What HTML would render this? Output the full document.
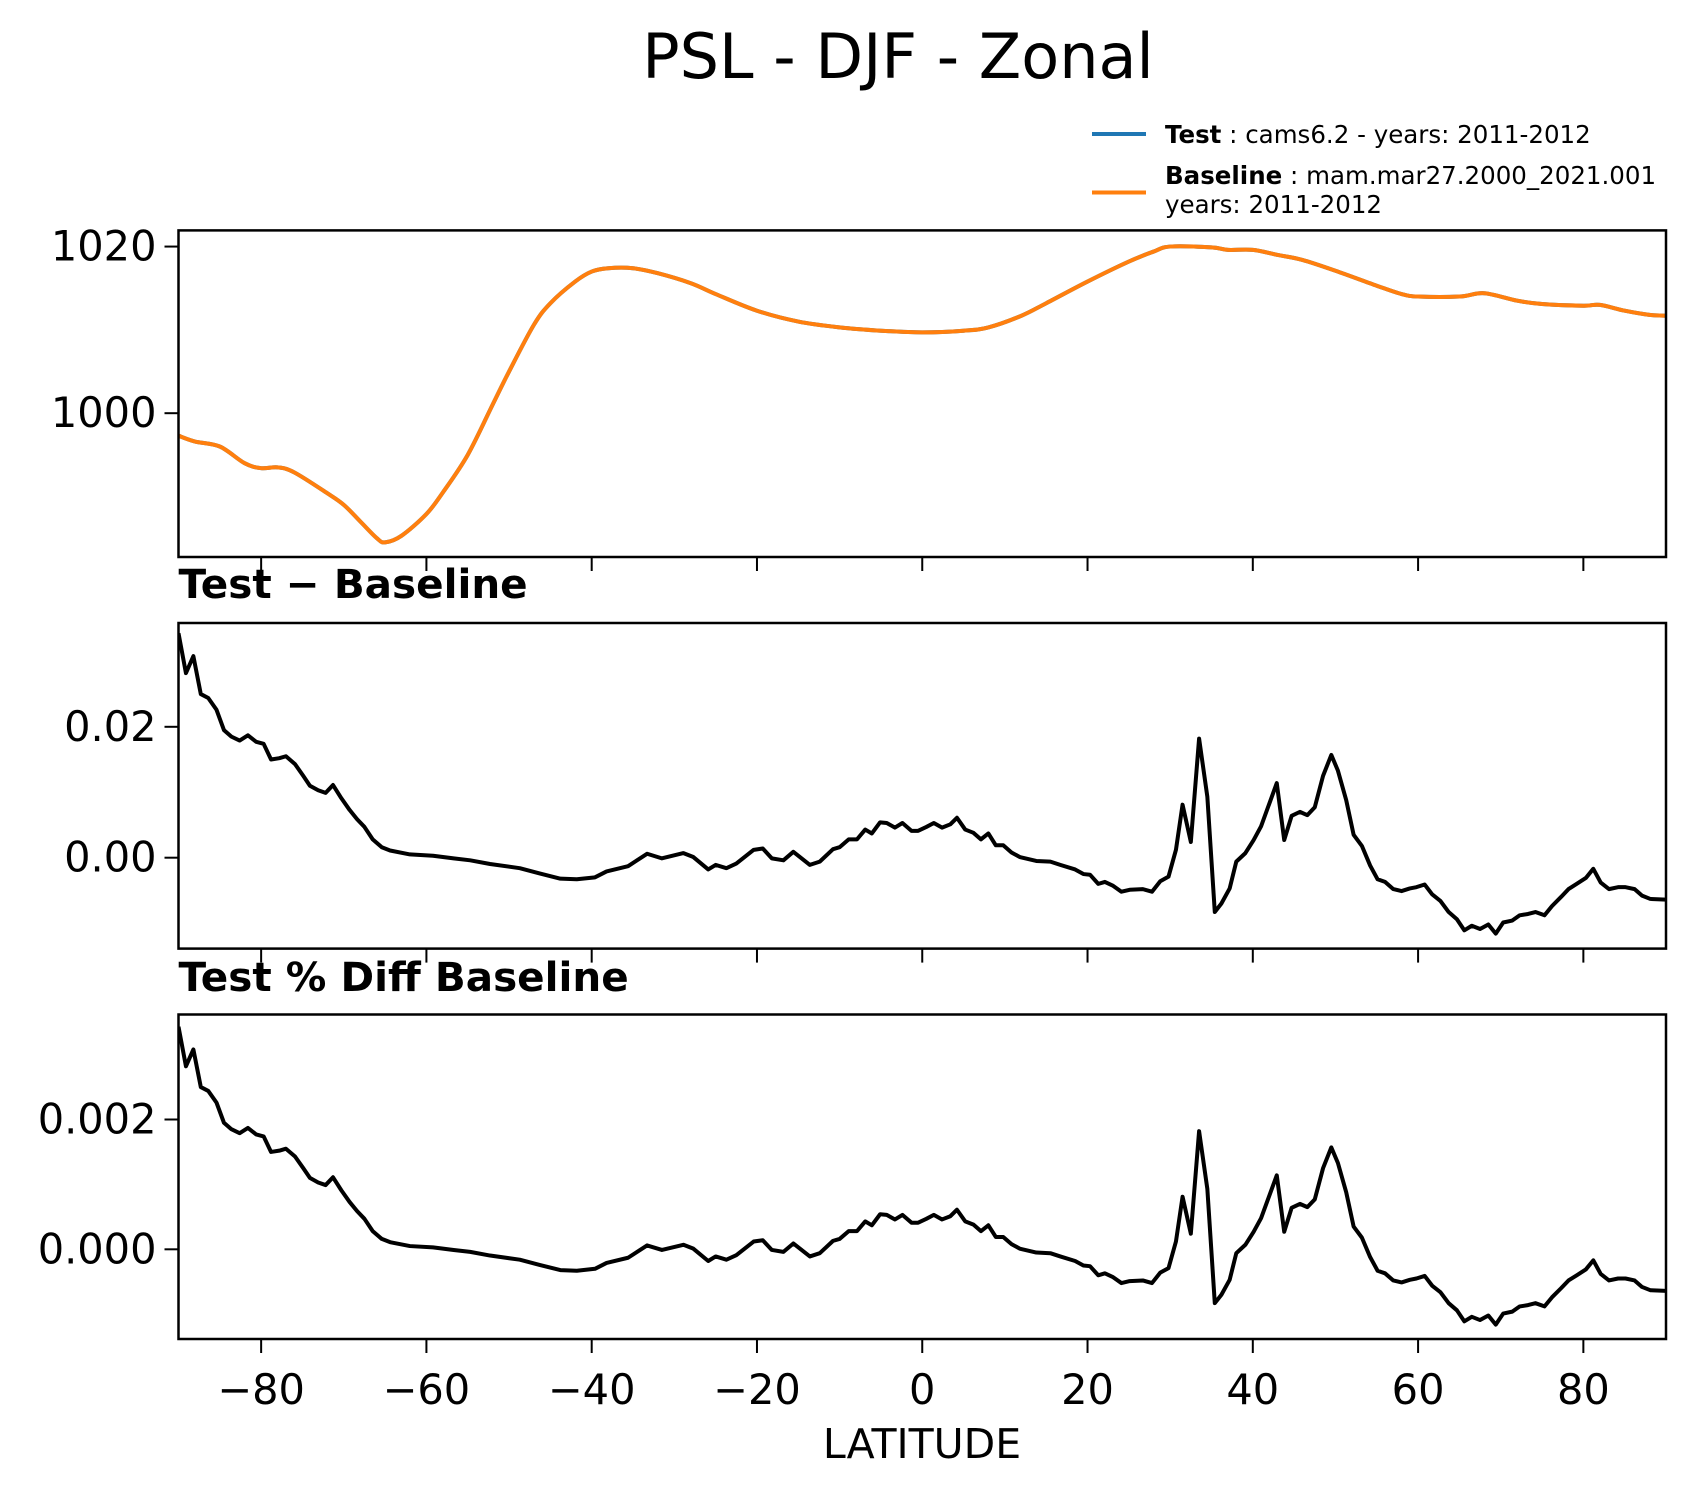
<!DOCTYPE html>
<html><head><meta charset="utf-8">
<style>
html,body{margin:0;padding:0;background:#fff;}
svg{display:block;font-family:"DejaVu Sans","Liberation Sans",sans-serif;}
</style></head>
<body>
<svg id="fig" width="1696" height="1496" viewBox="0 0 1696 1496" xmlns="http://www.w3.org/2000/svg">
<rect width="1696" height="1496" fill="#fff"/>
<text x="898" y="78" font-size="62" text-anchor="middle" fill="#000">PSL - DJF - Zonal</text>
<g>
  <line x1="1092" y1="134" x2="1146" y2="134" stroke="#1f77b4" stroke-width="4"/>
  <text x="1165" y="143" font-size="24.5"><tspan font-weight="bold">Test</tspan> : cams6.2 - years: 2011-2012</text>
  <line x1="1092" y1="192.5" x2="1146" y2="192.5" stroke="#ff7f0e" stroke-width="4"/>
  <text x="1165" y="184" font-size="24.5"><tspan font-weight="bold">Baseline</tspan> : mam.mar27.2000_2021.001</text>
  <text x="1165" y="213" font-size="24.5">years: 2011-2012</text>
</g>
<text x="178.5" y="598" font-size="40.5" font-weight="bold">Test − Baseline</text>
<text x="178.5" y="991" font-size="40.5" font-weight="bold">Test % Diff Baseline</text>
<text x="922" y="1458" font-size="41" text-anchor="middle">LATITUDE</text>
<g id="plots"></g>
</svg>
<script>
const xTicks=[-80,-60,-40,-20,0,20,40,60,80];
const xTickLabels=["−80","−60","−40","−20","0","20","40","60","80"];
const pslLat=[-90,-88,-85,-82,-80,-78,-76,-72,-70,-68,-66,-65,-63,-60,-58,-55,-52,-50,-47,-45,-42,-40,-38,-35,-32,-28,-25,-20,-15,-10,-5,0,5,8,12,15,20,25,28,30,35,37,40,43,46,50,55,58,60,65,68,72,75,80,82,85,88,90];
const pslTest=[997.3,996.6,996,994,993.4,993.5,992.9,990.4,989,987,985,984.5,985.3,987.9,990.5,995,1001,1005,1010.6,1013.2,1015.8,1017,1017.4,1017.4,1016.8,1015.6,1014.3,1012.3,1011,1010.3,1009.9,1009.7,1009.9,1010.3,1011.7,1013.2,1015.8,1018.2,1019.4,1020,1019.9,1019.6,1019.6,1019,1018.4,1017.1,1015.3,1014.3,1014,1014,1014.4,1013.5,1013.1,1012.9,1013,1012.3,1011.8,1011.7];
const pslBase=[997.3,996.6,996,994,993.4,993.5,992.9,990.4,989,987,985,984.5,985.3,987.9,990.5,995,1001,1005,1010.6,1013.2,1015.8,1017,1017.4,1017.4,1016.8,1015.6,1014.3,1012.3,1011,1010.3,1009.9,1009.7,1009.9,1010.3,1011.7,1013.2,1015.8,1018.2,1019.4,1020,1019.9,1019.6,1019.6,1019,1018.4,1017.1,1015.3,1014.3,1014,1014,1014.4,1013.5,1013.1,1012.9,1013,1012.3,1011.8,1011.7];
const diffLat=[-90,-89.1,-88.2,-87.3,-86.4,-85.4,-84.5,-83.6,-82.6,-81.6,-80.6,-79.7,-78.8,-77.8,-77,-75.9,-74.9,-74.1,-73.1,-72.2,-71.3,-70.3,-69.3,-68.4,-67.5,-66.5,-65.4,-64.4,-62,-59.2,-56.7,-54.7,-52.3,-48.7,-46.3,-43.8,-41.8,-39.6,-38.2,-35.6,-33.3,-31.5,-28.9,-27.7,-25.9,-25,-23.7,-22.5,-20.4,-19.3,-18.2,-16.8,-15.6,-13.6,-12.4,-10.8,-10,-8.9,-7.9,-6.9,-6.1,-5.1,-4.3,-3.3,-2.4,-1.3,-0.5,0.5,1.4,2.4,3.4,4.2,5.2,6.2,7.1,8,8.9,9.8,10.8,11.8,13.8,15.5,16.7,18.5,19.5,20.3,21.3,22.1,23.1,24.1,25.1,26.7,27.8,28.8,29.8,30.7,31.5,32.5,33.5,34.5,35.4,36.2,37.2,38,39.1,40.1,41,42.9,43.8,44.7,45.7,46.6,47.5,48.5,49.5,50.3,51.3,52.2,53.2,54.2,55.1,56,57,58,59,59.8,60.8,61.7,62.7,63.7,64.7,65.6,66.5,67.5,68.5,69.4,70.3,71.4,72.3,73.3,74.2,75.3,76.2,77.3,78.2,79.2,80.3,81.2,82.1,83.1,84.2,85.1,86.2,87.1,88.1,90];
const diffVals=[0.0343,0.0282,0.0308,0.025,0.0244,0.0226,0.0195,0.0185,0.0179,0.0187,0.0177,0.0174,0.015,0.0152,0.0155,0.0143,0.0125,0.011,0.0103,0.0099,0.0111,0.0091,0.0073,0.0059,0.0047,0.0028,0.0016,0.0011,0.0005,0.0003,-0.0001,-0.0004,-0.00096,-0.0016,-0.0024,-0.0032,-0.0033,-0.003,-0.0021,-0.0013,0.0006,-0.0001,0.0007,0.0001,-0.0018,-0.0011,-0.0016,-0.0009,0.0012,0.0014,-0.0001,-0.0004,0.0009,-0.0011,-0.0006,0.0013,0.0016,0.0028,0.0028,0.0043,0.0037,0.0054,0.0053,0.0046,0.0053,0.0041,0.0041,0.0047,0.0053,0.0046,0.0051,0.0061,0.0043,0.0038,0.0028,0.0037,0.0019,0.0019,0.0008,0.0001,-0.0005,-0.0006,-0.0011,-0.0018,-0.0025,-0.0026,-0.004,-0.0037,-0.0043,-0.0052,-0.0049,-0.0048,-0.0052,-0.0036,-0.0029,0.0012,0.0081,0.0024,0.0182,0.0093,-0.0083,-0.007,-0.0047,-0.0006,0.0007,0.0027,0.0048,0.0114,0.0027,0.0064,0.007,0.0065,0.0077,0.0125,0.0157,0.0133,0.0088,0.0035,0.0018,-0.0012,-0.0033,-0.0037,-0.0048,-0.0051,-0.0047,-0.0045,-0.0041,-0.0056,-0.0066,-0.0083,-0.0094,-0.0111,-0.0104,-0.0109,-0.0102,-0.0116,-0.0099,-0.0096,-0.0088,-0.0086,-0.0083,-0.0088,-0.0074,-0.006,-0.0048,-0.004,-0.0031,-0.0017,-0.0038,-0.0048,-0.0045,-0.0045,-0.0048,-0.0058,-0.0063,-0.0064];
const pctVals=[0.00343,0.00282,0.00308,0.0025,0.00244,0.00226,0.00195,0.00185,0.00179,0.00187,0.00177,0.00174,0.0015,0.00152,0.00155,0.00143,0.00125,0.0011,0.00103,0.00099,0.00111,0.00091,0.00073,0.00059,0.00047,0.00028,0.00016,0.00011,0.00005,0.00003,-0.00001,-0.00004,-0.000096,-0.00016,-0.00024,-0.00032,-0.00033,-0.0003,-0.00021,-0.00013,0.00006,-0.00001,0.00007,0.00001,-0.00018,-0.00011,-0.00016,-0.00009,0.00012,0.00014,-0.00001,-0.00004,0.00009,-0.00011,-0.00006,0.00013,0.00016,0.00028,0.00028,0.00043,0.00037,0.00054,0.00053,0.00046,0.00053,0.00041,0.00041,0.00047,0.00053,0.00046,0.00051,0.00061,0.00043,0.00038,0.00028,0.00037,0.00019,0.00019,0.00008,0.00001,-0.00005,-0.00006,-0.00011,-0.00018,-0.00025,-0.00026,-0.0004,-0.00037,-0.00043,-0.00052,-0.00049,-0.00048,-0.00052,-0.00036,-0.00029,0.00012,0.00081,0.00024,0.00182,0.00093,-0.00083,-0.0007,-0.00047,-0.00006,0.00007,0.00027,0.00048,0.00114,0.00027,0.00064,0.0007,0.00065,0.00077,0.00125,0.00157,0.00133,0.00088,0.00035,0.00018,-0.00012,-0.00033,-0.00037,-0.00048,-0.00051,-0.00047,-0.00045,-0.00041,-0.00056,-0.00066,-0.00083,-0.00094,-0.00111,-0.00104,-0.00109,-0.00102,-0.00116,-0.00099,-0.00096,-0.00088,-0.00086,-0.00083,-0.00088,-0.00074,-0.0006,-0.00048,-0.0004,-0.00031,-0.00017,-0.00038,-0.00048,-0.00045,-0.00045,-0.00048,-0.00058,-0.00063,-0.00064];
const pslTicks=[1000,1020];
const pslTickLabels=["1000","1020"];
const diffTicks=[0,0.02];
const diffTickLabels=["0.00","0.02"];
const pctTicks=[0,0.002];
const pctTickLabels=["0.000","0.002"];

const NS="http://www.w3.org/2000/svg";
const L=178.5,R=1666;
const xScale=v=>L+(v+90)/180*(R-L);
const plots=document.getElementById('plots');
function mk(tag,attrs,parent){const e=document.createElementNS(NS,tag);for(const k in attrs)e.setAttribute(k,attrs[k]);parent.appendChild(e);return e;}

function pathD(pts,smooth){
  if(!smooth){return pts.map((p,i)=>(i?'L':'M')+p[0].toFixed(2)+','+p[1].toFixed(2)).join('');}
  let d='M'+pts[0][0].toFixed(2)+','+pts[0][1].toFixed(2);
  for(let i=0;i<pts.length-1;i++){
    const p0=pts[Math.max(0,i-1)],p1=pts[i],p2=pts[i+1],p3=pts[Math.min(pts.length-1,i+2)];
    const c1=[p1[0]+(p2[0]-p0[0])/6,p1[1]+(p2[1]-p0[1])/6];
    const c2=[p2[0]-(p3[0]-p1[0])/6,p2[1]-(p3[1]-p1[1])/6];
    d+='C'+c1[0].toFixed(2)+','+c1[1].toFixed(2)+' '+c2[0].toFixed(2)+','+c2[1].toFixed(2)+' '+p2[0].toFixed(2)+','+p2[1].toFixed(2);
  }
  return d;
}

function panel(name,top,bottom,ymin,ymax,yt,ytl,series,showXLabels,smooth){
  const g=mk('g',{},plots);
  
  
  const y=v=>bottom-(v-ymin)/(ymax-ymin)*(bottom-top);
  const clipId=name+'-clip';
  const cp=mk('clipPath',{id:clipId},g);mk('rect',{x:L,y:top,width:R-L,height:bottom-top},cp);
  series.forEach(s=>{
    const pts=s.lat.map((la,i)=>[xScale(la),y(s.vals[i])]);
    const p=mk('path',{d:pathD(pts,smooth),fill:'none',stroke:s.color,'stroke-width':4,'stroke-linejoin':'round','clip-path':'url(#'+clipId+')'},g);
    
    
  });
  const fr=mk('rect',{x:L,y:top,width:R-L,height:bottom-top,fill:'none',stroke:'#000','stroke-width':2.5},g);
  
  
  yt.forEach((v,i)=>{
    const yy=y(v);
    const t=mk('line',{x1:L-14,x2:L,y1:yy,y2:yy,stroke:'#000','stroke-width':2},g);
    
    
    const lb=mk('text',{x:L-22,y:yy+14,'font-size':41.5,'text-anchor':'end'},g);
    lb.textContent=ytl[i];
    
    
  });
  xTicks.forEach((v,i)=>{
    const xx=xScale(v);
    const t=mk('line',{x1:xx,x2:xx,y1:bottom,y2:bottom+14,stroke:'#000','stroke-width':2},g);
    
    
    if(showXLabels){
      const lb=mk('text',{x:xx,y:bottom+65,'font-size':41.5,'text-anchor':'middle'},g);
      lb.textContent=xTickLabels[i];
      
      
    }
  });
}
panel('psl',230.4,557,982.74,1021.94,pslTicks,pslTickLabels,[
  {name:'test-line',lat:pslLat,vals:pslTest,color:'#1f77b4'},
  {name:'baseline-line',lat:pslLat,vals:pslBase,color:'#ff7f0e'}],false,true);
panel('diff',623,948.6,-0.01389,0.03586,diffTicks,diffTickLabels,[
  {name:'diff-line',lat:diffLat,vals:diffVals,color:'#000'}],false,false);
panel('pct',1014.5,1339,-0.001382,0.003618,pctTicks,pctTickLabels,[
  {name:'pct-diff-line',lat:diffLat,vals:pctVals,color:'#000'}],true,false);
</script>
</body></html>
